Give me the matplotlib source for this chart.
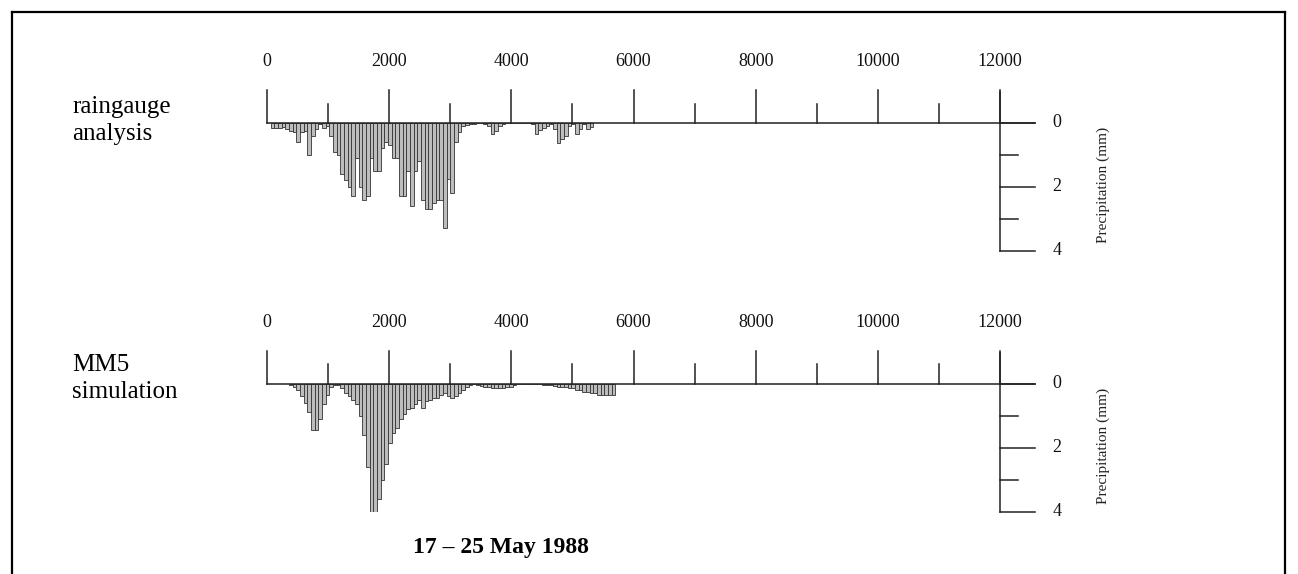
import matplotlib

matplotlib.use("Agg")
import matplotlib.pyplot as plt
from matplotlib.lines import Line2D
import numpy as np

plt.rcParams['font.family'] = ['Liberation Serif', 'DejaVu Serif']

# bin width along the x axis and tick positions
BIN = 60
x_ticks = [0, 2000, 4000, 6000, 8000, 10000, 12000]
x_tick_labels = ['0', '2000', '4000', '6000', '8000', '10000', '12000']
x_minor = [1000, 3000, 5000, 7000, 9000, 11000]
y_ticks = [0, 2, 4]
y_minor = [1, 3]

# raingauge analysis, bins starting at 60
gauge_start = 60
gauge_mm = [0.15, 0.18, 0.18, 0.12, 0.2, 0.25, 0.3, 0.6, 0.3, 0.25,
            1.0, 0.4, 0.2, 0.05, 0.15, 0.1, 0.4, 0.9, 1.0, 1.6,
            1.8, 2.0, 2.3, 1.1, 2.0, 2.4, 2.3, 1.1, 1.5, 1.5,
            0.8, 0.6, 0.7, 1.1, 1.1, 2.3, 2.3, 1.5, 2.6, 1.5,
            1.2, 2.4, 2.7, 2.7, 2.5, 2.4, 2.4, 3.3, 1.75, 2.2,
            0.6, 0.3, 0.1, 0.06, 0.04, 0.03, 0.02, 0.0, 0.05, 0.1,
            0.35, 0.25, 0.1, 0.03, 0.0, 0.0, 0.02, 0.0, 0.0, 0.02,
            0.02, 0.05, 0.36, 0.24, 0.15, 0.1, 0.05, 0.2, 0.63, 0.5,
            0.4, 0.1, 0.05, 0.35, 0.2, 0.05, 0.2, 0.13]

# MM5 simulation, bins starting at 360
mm5_start = 360
mm5_mm = [0.05, 0.1, 0.2, 0.4, 0.6, 0.9, 1.45, 1.45, 1.1, 0.65,
          0.35, 0.1, 0.05, 0.05, 0.15, 0.3, 0.4, 0.5, 0.65, 1.0,
          1.6, 2.6, 4.0, 4.0, 3.6, 3.0, 2.5, 1.85, 1.55, 1.4,
          1.1, 0.95, 0.8, 0.75, 0.65, 0.5, 0.75, 0.55, 0.5, 0.45,
          0.45, 0.35, 0.3, 0.4, 0.45, 0.4, 0.3, 0.2, 0.1, 0.05,
          0.03, 0.05, 0.08, 0.1, 0.12, 0.15, 0.15, 0.15, 0.15, 0.12,
          0.1, 0.05, 0.03, 0.02, 0.02, 0.02, 0.02, 0.03, 0.03, 0.05,
          0.05, 0.05, 0.08, 0.1, 0.1, 0.12, 0.15, 0.15, 0.2, 0.2,
          0.25, 0.25, 0.3, 0.3, 0.35, 0.35, 0.35, 0.35, 0.35]

W, H = 1298, 574
fig = plt.figure(figsize=(W / 100, H / 100), dpi=100)

# outer frame (open at the bottom)
for xs, ys in [((12, 12), (12, 580)), ((12, 1285), (12, 12)), ((1285, 1285), (12, 580))]:
    fig.add_artist(Line2D([xs[0] / W, xs[1] / W], [1 - ys[0] / H, 1 - ys[1] / H],
                          transform=fig.transFigure, color='black', lw=1.6))


def draw_panel(base_px, start, values):
    # axes: x 0..12000 -> px 267..1000, y -1..4 mm at 32 px/mm
    top_px = base_px - 32
    bot_px = base_px + 128
    ax = fig.add_axes([267 / W, 1 - bot_px / H, 733 / W, (bot_px - top_px) / H])
    ax.set_xlim(0, 12000)
    ax.set_ylim(4, -1)
    ax.axis('off')

    xs = start + BIN * np.arange(len(values))
    ax.bar(xs, values, width=BIN, align='edge', color='#bdbdbd',
           edgecolor='#333333', linewidth=0.6)

    kw = dict(color='#222222', lw=1.1, clip_on=False)
    ax.plot([0, 12570], [0, 0], **kw)
    for t, lab in zip(x_ticks, x_tick_labels):
        ax.plot([t, t], [0, -1.02], **kw)
        ax.text(t, -1.9, lab, ha='center', va='center', fontsize=13, color='#111111')
    for t in x_minor:
        ax.plot([t, t], [0, -0.6], **kw)

    ax.plot([12000, 12000], [-0.95, 4], **kw)
    for t in y_ticks:
        ax.plot([12000, 12570], [t, t], **kw)
        ax.text(12930, t, str(t), ha='center', va='center', fontsize=13, color='#111111')
    for t in y_minor:
        ax.plot([12000, 12290], [t, t], **kw)
    ax.text(13690, 1.95, 'Precipitation (mm)', rotation=90, ha='center', va='center',
            fontsize=11, color='#222222')
    return ax


draw_panel(122.7, gauge_start, gauge_mm)
draw_panel(383.5, mm5_start, mm5_mm)

fig.text(72 / W, 1 - 96 / H, 'raingauge\nanalysis', ha='left', va='top',
         fontsize=18, linespacing=1.3)
fig.text(72 / W, 1 - 354 / H, 'MM5\nsimulation', ha='left', va='top',
         fontsize=18, linespacing=1.3)
fig.text(501 / W, 1 - 548 / H, '17 \u2013 25 May 1988', ha='center', va='center',
         fontsize=17, fontweight='bold')

fig.savefig('out.png', dpi=100)
plt.close(fig)
